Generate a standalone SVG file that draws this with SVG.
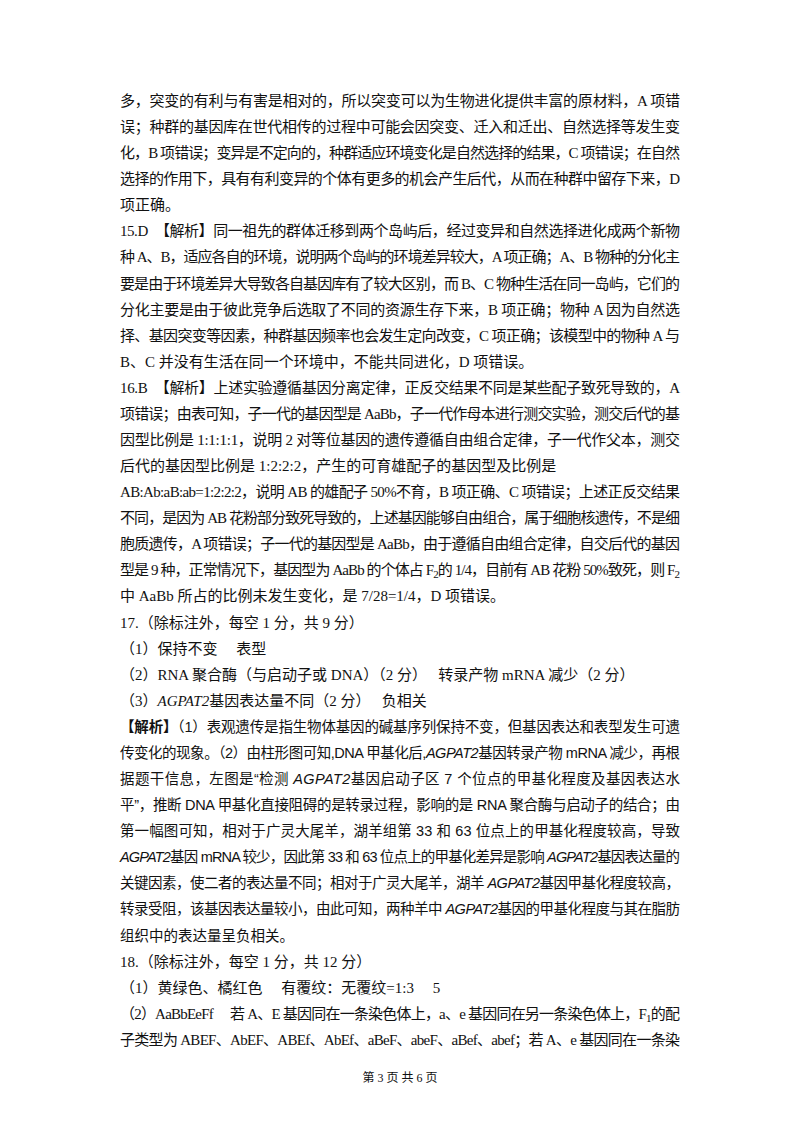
<svg xmlns="http://www.w3.org/2000/svg" width="800" height="1132" viewBox="0 0 800 1132">
<style>
text{font-family:"Liberation Serif","Noto Sans CJK SC",serif;font-size:15px;fill:#111}
.k{font-family:"Liberation Sans","Noto Sans CJK SC",sans-serif;font-size:14.5px}
.i{font-style:italic}
.f{font-size:11px}
.ft{font-size:12px}
</style>
<rect width="800" height="1132" fill="#fff"/>
<text x="120" y="106" textLength="560" lengthAdjust="spacing">多，突变的有利与有害是相对的，所以突变可以为生物进化提供丰富的原材料，A 项错</text>
<text x="120" y="132" textLength="560" lengthAdjust="spacing">误；种群的基因库在世代相传的过程中可能会因突变、迁入和迁出、自然选择等发生变</text>
<text x="120" y="158" textLength="560" lengthAdjust="spacing">化，B 项错误；变异是不定向的，种群适应环境变化是自然选择的结果，C 项错误；在自然</text>
<text x="120" y="184" textLength="560" lengthAdjust="spacing">选择的作用下，具有有利变异的个体有更多的机会产生后代，从而在种群中留存下来，D</text>
<text x="120" y="210">项正确。</text>
<text x="120" y="236" textLength="560" lengthAdjust="spacing">15.D　【解析】同一祖先的群体迁移到两个岛屿后，经过变异和自然选择进化成两个新物</text>
<text x="120" y="262" textLength="560" lengthAdjust="spacing">种 A、B，适应各自的环境，说明两个岛屿的环境差异较大，A 项正确；A、B 物种的分化主</text>
<text x="120" y="289" textLength="560" lengthAdjust="spacing">要是由于环境差异大导致各自基因库有了较大区别，而 B、C 物种生活在同一岛屿，它们的</text>
<text x="120" y="315" textLength="560" lengthAdjust="spacing">分化主要是由于彼此竞争后选取了不同的资源生存下来，B 项正确；物种 A 因为自然选</text>
<text x="120" y="341" textLength="560" lengthAdjust="spacing">择、基因突变等因素，种群基因频率也会发生定向改变，C 项正确；该模型中的物种 A 与</text>
<text x="120" y="367">B、C 并没有生活在同一个环境中，不能共同进化，D 项错误。</text>
<text x="120" y="393" textLength="560" lengthAdjust="spacing">16.B　【解析】上述实验遵循基因分离定律，正反交结果不同是某些配子致死导致的，A</text>
<text x="120" y="419" textLength="560" lengthAdjust="spacing">项错误；由表可知，子一代的基因型是 AaBb，子一代作母本进行测交实验，测交后代的基</text>
<text x="120" y="445" textLength="560" lengthAdjust="spacing">因型比例是 1:1:1:1，说明 2 对等位基因的遗传遵循自由组合定律，子一代作父本，测交</text>
<text x="120" y="471">后代的基因型比例是 1:2:2:2，产生的可育雄配子的基因型及比例是</text>
<text x="120" y="497" textLength="560" lengthAdjust="spacing">AB:Ab:aB:ab=1:2:2:2，说明 AB 的雄配子 50%不育，B 项正确、C 项错误；上述正反交结果</text>
<text x="120" y="523" textLength="560" lengthAdjust="spacing">不同，是因为 AB 花粉部分致死导致的，上述基因能够自由组合，属于细胞核遗传，不是细</text>
<text x="120" y="549" textLength="560" lengthAdjust="spacing">胞质遗传，A 项错误；子一代的基因型是 AaBb，由于遵循自由组合定律，自交后代的基因</text>
<text x="120" y="575" textLength="560" lengthAdjust="spacing">型是 9 种，正常情况下，基因型为 AaBb 的个体占 F<tspan class="f" dy="3">2</tspan><tspan dy="-3">的 1/4，目前有 AB 花粉 50%致死，则 F</tspan><tspan class="f" dy="3">2</tspan></text>
<text x="120" y="601">中 AaBb 所占的比例未发生变化，是 7/28=1/4，D 项错误。</text>
<text x="120" y="628">17.（除标注外，每空 1 分，共 9 分）</text>
<text x="120" y="654">（1）保持不变　 表型</text>
<text x="120" y="680">（2）RNA 聚合酶（与启动子或 DNA）（2 分）　 转录产物 mRNA 减少（2 分）</text>
<text x="120" y="706">（3）<tspan class="i">AGPAT2</tspan>基因表达量不同（2 分）　 负相关</text>
<text class="k" x="120" y="732" textLength="560" lengthAdjust="spacing"><tspan font-weight="bold">【解析】</tspan>（1）表观遗传是指生物体基因的碱基序列保持不变，但基因表达和表型发生可遗</text>
<text class="k" x="120" y="758" textLength="560" lengthAdjust="spacing">传变化的现象。（2）由柱形图可知,DNA 甲基化后,<tspan class="i">AGPAT2</tspan>基因转录产物 mRNA 减少，再根</text>
<text class="k" x="120" y="784" textLength="560" lengthAdjust="spacing">据题干信息，左图是“检测 <tspan class="i">AGPAT2</tspan>基因启动子区 7 个位点的甲基化程度及基因表达水</text>
<text class="k" x="120" y="810" textLength="560" lengthAdjust="spacing">平”，推断 DNA 甲基化直接阻碍的是转录过程，影响的是 RNA 聚合酶与启动子的结合；由</text>
<text class="k" x="120" y="836" textLength="560" lengthAdjust="spacing">第一幅图可知，相对于广灵大尾羊，湖羊组第 33 和 63 位点上的甲基化程度较高，导致</text>
<text class="k" x="120" y="862" textLength="560" lengthAdjust="spacing"><tspan class="i">AGPAT2</tspan>基因 mRNA 较少，因此第 33 和 63 位点上的甲基化差异是影响 <tspan class="i">AGPAT2</tspan>基因表达量的</text>
<text class="k" x="120" y="888" textLength="560" lengthAdjust="spacing">关键因素，使二者的表达量不同；相对于广灵大尾羊，湖羊 <tspan class="i">AGPAT2</tspan>基因甲基化程度较高，</text>
<text class="k" x="120" y="914" textLength="560" lengthAdjust="spacing">转录受阻，该基因表达量较小，由此可知，两种羊中 <tspan class="i">AGPAT2</tspan>基因的甲基化程度与其在脂肪</text>
<text class="k" x="120" y="941">组织中的表达量呈负相关。</text>
<text x="120" y="967">18.（除标注外，每空 1 分，共 12 分）</text>
<text x="120" y="993">（1）黄绿色、橘红色　 有覆纹：无覆纹=1:3　 5</text>
<text x="120" y="1019" textLength="560" lengthAdjust="spacing">（2）AaBbEeFf　 若 A、E 基因同在一条染色体上，a、e 基因同在另一条染色体上，F<tspan class="f" dy="3">1</tspan><tspan dy="-3">的配</tspan></text>
<text x="120" y="1045" textLength="560" lengthAdjust="spacing">子类型为 ABEF、AbEF、ABEf、AbEf、aBeF、abeF、aBef、abef；若 A、e 基因同在一条染</text>
<text class="ft" x="400" y="1082" text-anchor="middle">第 3 页 共 6 页</text>
</svg>
